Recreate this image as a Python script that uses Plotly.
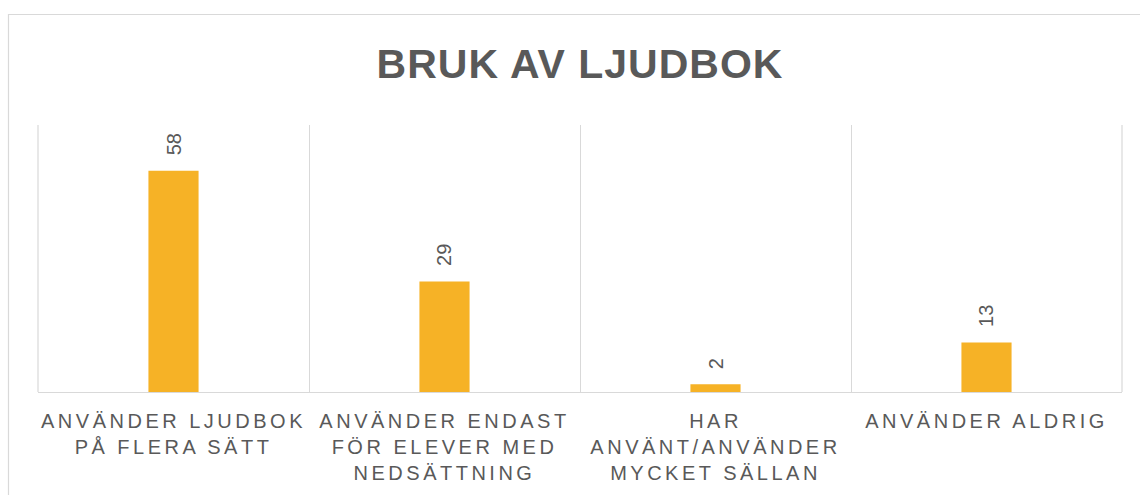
import plotly.graph_objects as go

categories = [
    "ANVÄNDER LJUDBOK<br>PÅ FLERA SÄTT",
    "ANVÄNDER ENDAST<br>FÖR ELEVER MED<br>NEDSÄTTNING",
    "HAR<br>ANVÄNT/ANVÄNDER<br>MYCKET SÄLLAN",
    "ANVÄNDER ALDRIG",
]
values = [58, 29, 2, 13]
title_text = "BRUK AV LJUDBOK"

BAR = "#F6B226"
TXT = "#595959"
GRID = "#D9D9D9"
W, H = 1140, 495
ML, MR, MT, MB = 38, 18, 125, 103
pw, ph = W - ML - MR, H - MT - MB

fig = go.Figure()
fig.add_trace(go.Bar(x=categories, y=values, marker_color=BAR, marker_line_width=0,
                     hoverinfo="x+y"))

for c, v in zip(categories, values):
    fig.add_annotation(x=c, y=v, text=str(v), textangle=-90, showarrow=False,
                       xref="x", yref="y", yanchor="bottom", xanchor="center",
                       yshift=13, font=dict(family="Liberation Sans", size=20, color=TXT))

# outer chart frame
fig.add_shape(type="rect", xref="paper", yref="paper",
              x0=(8.5 - ML) / pw, x1=(W + 20 - ML) / pw,
              y0=-(MB + 20) / ph, y1=1 + (MT - 14.5) / ph,
              line=dict(color=GRID, width=1.2), fillcolor="rgba(0,0,0,0)", layer="below")
# outer category boundary lines of the plot area
for px in (0, 1):
    fig.add_shape(type="line", xref="paper", yref="paper", x0=px, x1=px, y0=0, y1=1,
                  line=dict(color=GRID, width=1.2), layer="below")

fig.update_layout(
    width=W, height=H,
    margin=dict(l=ML, r=MR, t=MT, b=MB, autoexpand=False),
    paper_bgcolor="white", plot_bgcolor="white",
    bargap=0.815,
    showlegend=False,
    title=dict(text="<b>" + title_text + "</b>", x=0.5, xanchor="center", xref="paper",
               y=1 - 64 / H, yanchor="middle", yref="container",
               font=dict(family="Liberation Sans", size=41, color=TXT)),
    xaxis=dict(type="category", tickson="boundaries", showgrid=True, gridcolor=GRID,
               gridwidth=1.2, showline=True, linecolor=GRID, linewidth=1.2,
               ticks="", ticklabelstandoff=11, range=[-0.5, 3.5],
               tickfont=dict(family="Liberation Sans", size=20, color=TXT),
               fixedrange=True),
    yaxis=dict(range=[0, 70], showgrid=False, showticklabels=False, zeroline=False,
               showline=False, ticks="", fixedrange=True),
)

post = """
document.body.style.margin = '0';
var st = document.createElement('style');
st.innerHTML = 'body{margin:0;} .xtick text{letter-spacing:3.5px;} .gtitle{letter-spacing:1px;}';
document.head.appendChild(st);
"""
fig.write_html("out.html", post_script=post, config={"displayModeBar": False})
